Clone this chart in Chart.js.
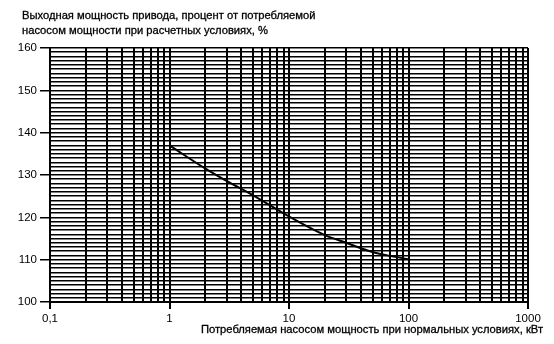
<!DOCTYPE html>
<html>
<head>
<meta charset="utf-8">
<script src="https://cdn.jsdelivr.net/npm/chart.js@4"></script>
<style>
  body { margin: 0; background: #fff; }
</style>
</head>
<body>
<canvas id="myChart" width="554" height="344"></canvas>
<script>
var titleLines = [
    'Выходная мощность привода, процент от потребляемой',
    'насосом мощности при расчетных условиях, %'
];
var xTitle = 'Потребляемая насосом мощность при нормальных условиях, кВт';

// curve
var powerKw = [1, 2, 3, 5, 10, 20, 30, 50, 70, 100];
var outputPct = [137, 131.5, 128.6, 125.2, 120.2, 115.8, 114, 111.8, 110.9, 110.1];

var xDecades = [0.1, 1, 10, 100, 1000];
var yMin = 100, yMax = 160, yLabelStep = 10;

var FONT = '"Liberation Sans", Arial, sans-serif';

// log grid: 1..9 inside every decade
var xGrid = [];
for (var i = 0; i < xDecades.length - 1; i++) {
    for (var m = 1; m < 10; m++) xGrid.push(m * xDecades[i]);
}
xGrid.push(xDecades[xDecades.length - 1]);

var yGrid = [];
for (var v = yMin; v <= yMax; v++) yGrid.push(v);

function isDecade(v) {
    var l = Math.log10(v);
    return Math.abs(l - Math.round(l)) < 1e-9;
}

var textPlugin = {
    id: 'texts',
    afterDraw: function (chart) {
        var ctx = chart.ctx;
        ctx.save();
        ctx.fillStyle = '#000';
        ctx.strokeStyle = '#000';
        ctx.lineWidth = 0.3;
        ctx.font = '11.2px ' + FONT;
        ctx.textBaseline = 'middle';
        ctx.textAlign = 'left';
        ctx.fillText(titleLines[0], 22, 16);
        ctx.strokeText(titleLines[0], 22, 16);
        ctx.fillText(titleLines[1], 22, 31);
        ctx.strokeText(titleLines[1], 22, 31);
        ctx.textAlign = 'right';
        ctx.fillText(xTitle, 543, 330);
        ctx.strokeText(xTitle, 543, 330);
        ctx.restore();
    }
};

var ctx = document.getElementById('myChart').getContext('2d');
var myChart = new Chart(ctx, {
    type: 'line',
    data: {
        datasets: [{
            data: powerKw.map(function (x, i) { return { x: x, y: outputPct[i] }; }),
            borderColor: '#000',
            borderWidth: 2,
            pointRadius: 0,
            cubicInterpolationMode: 'monotone',
            fill: false
        }]
    },
    options: {
        responsive: false,
        animation: false,
        devicePixelRatio: 1,
        layout: { padding: { top: 48, right: 26, left: 0, bottom: 0 } },
        plugins: { legend: { display: false }, tooltip: { enabled: false } },
        scales: {
            x: {
                type: 'logarithmic',
                min: xDecades[0],
                max: xDecades[xDecades.length - 1],
                afterBuildTicks: function (s) {
                    s.ticks = xGrid.map(function (v) { return { value: v }; });
                },
                afterFit: function (s) { s.height = 42; },
                ticks: {
                    autoSkip: false,
                    maxRotation: 0,
                    padding: 3,
                    color: '#000',
                    font: { family: FONT, size: 11.5 },
                    callback: function (v) {
                        return isDecade(v) ? String(v).replace('.', ',') : '';
                    }
                },
                grid: {
                    color: '#000',
                    lineWidth: 2,
                    tickLength: 7,
                    tickColor: function (c) {
                        return c.tick && isDecade(c.tick.value) ? '#000' : 'rgba(0,0,0,0)';
                    }
                },
                border: { color: '#000', width: 2 }
            },
            y: {
                type: 'linear',
                min: yMin,
                max: yMax,
                afterBuildTicks: function (s) {
                    s.ticks = yGrid.map(function (v) { return { value: v }; });
                },
                afterFit: function (s) { s.width = 50; },
                ticks: {
                    autoSkip: false,
                    padding: 3,
                    color: '#000',
                    font: { family: FONT, size: 11.5 },
                    callback: function (v) {
                        return v % yLabelStep === 0 ? v : '';
                    }
                },
                grid: {
                    color: '#000',
                    lineWidth: 1.5,
                    tickLength: 10,
                    tickColor: function (c) {
                        return c.tick && c.tick.value % yLabelStep === 0 ? '#000' : 'rgba(0,0,0,0)';
                    }
                },
                border: { color: '#000', width: 2 }
            }
        }
    },
    plugins: [textPlugin]
});
</script>
</body>
</html>
